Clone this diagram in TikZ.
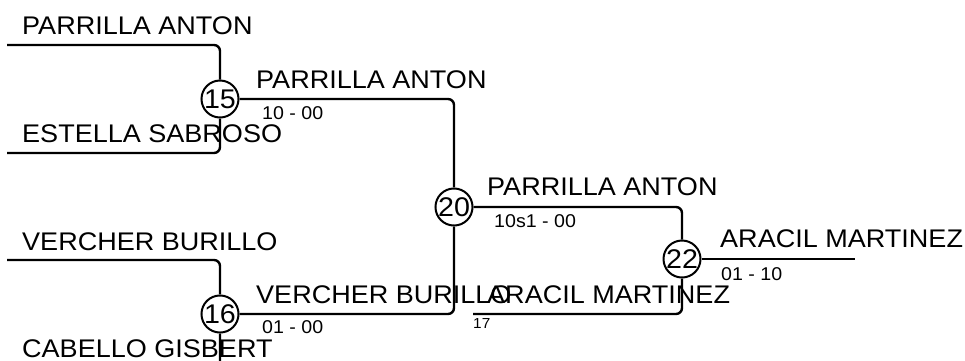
\documentclass[tikz,border=0pt]{standalone}
\usepackage{fontspec}
\setmainfont{Liberation Sans}[FakeStretch=1.06]
\usepackage{tikz}
\usetikzlibrary{positioning}

\begin{document}
\begin{tikzpicture}[x=1pt,y=-1pt,
        bracket/.style={line width=2.4pt, rounded corners=6pt},
        match/.style={circle, draw, line width=2pt, fill=white, inner sep=0pt, minimum size=37pt, font=\fontsize{27}{27}\selectfont},
        player/.style={anchor=base west, inner sep=0pt, font=\fontsize{25.5}{26}\selectfont},
        score/.style={anchor=base west, inner sep=0pt, font=\fontsize{18.5}{19}\selectfont},
        tag/.style={anchor=base west, inner sep=0pt, font=\fontsize{14.5}{15}\selectfont}]
    \useasboundingbox (0,0) rectangle (965,360);
    \clip (0,0) rectangle (965,360);
    % matches
    \node[match] (m15) at (220,99) {15};
    \node[match] (m16) at (220,314) {16};
    \node[match] (m20) at (454,207) {20};
    \node[match] (m22) at (682,259) {22};
    % free ends of the first round
    \coordinate (s15a) at (7,45);
    \coordinate (s15b) at (7,153);
    \coordinate (s16a) at (7,260);
    \coordinate (s16b) at (7,368);
    \coordinate (s22b) at (473,314);
    \coordinate (win) at (855,259);
    % bracket lines
    \draw[bracket] (s15a) -| (m15.north);
    \draw[bracket] (s15b) -| (m15.south);
    \draw[bracket] (s16a) -| (m16.north);
    \draw[bracket] (s16b) -| (m16.south);
    \draw[bracket] (m15.east) -| (m20.north);
    \draw[bracket] (m16.east) -| (m20.south);
    \draw[bracket] (m20.east) -| (m22.north);
    \draw[bracket] (s22b) -| (m22.south);
    \draw[bracket] (m22.east) -- (win);
    % players
    \node[player] (p1) at (22,34) {PARRILLA ANTON};
    \node[player] (p2) at (22,142) {ESTELLA SABROSO};
    \node[player] (p3) at (22,250) {VERCHER BURILLO};
    \node[player] (p4) at (22,357) {CABELLO GISBERT};
    \node[player] (w15) at (256,88) {PARRILLA ANTON};
    \node[player] (w16) at (256,303) {VERCHER BURILLO};
    \node[player] (w20) at (487,195) {PARRILLA ANTON};
    \node[player] (p5) at (487,303) {ARACIL MARTINEZ};
    \node[player] (w22) at (720,247) {ARACIL MARTINEZ};
    % results
    \node[score] (r15) at (262,119) {10 - 00};
    \node[score] (r16) at (262,333) {01 - 00};
    \node[score] (r20) at (494,227) {10s1 - 00};
    \node[score] (r22) at (721,280) {01 - 10};
    \node[tag] (t17) at (473,328) {17};
\end{tikzpicture}
\end{document}
